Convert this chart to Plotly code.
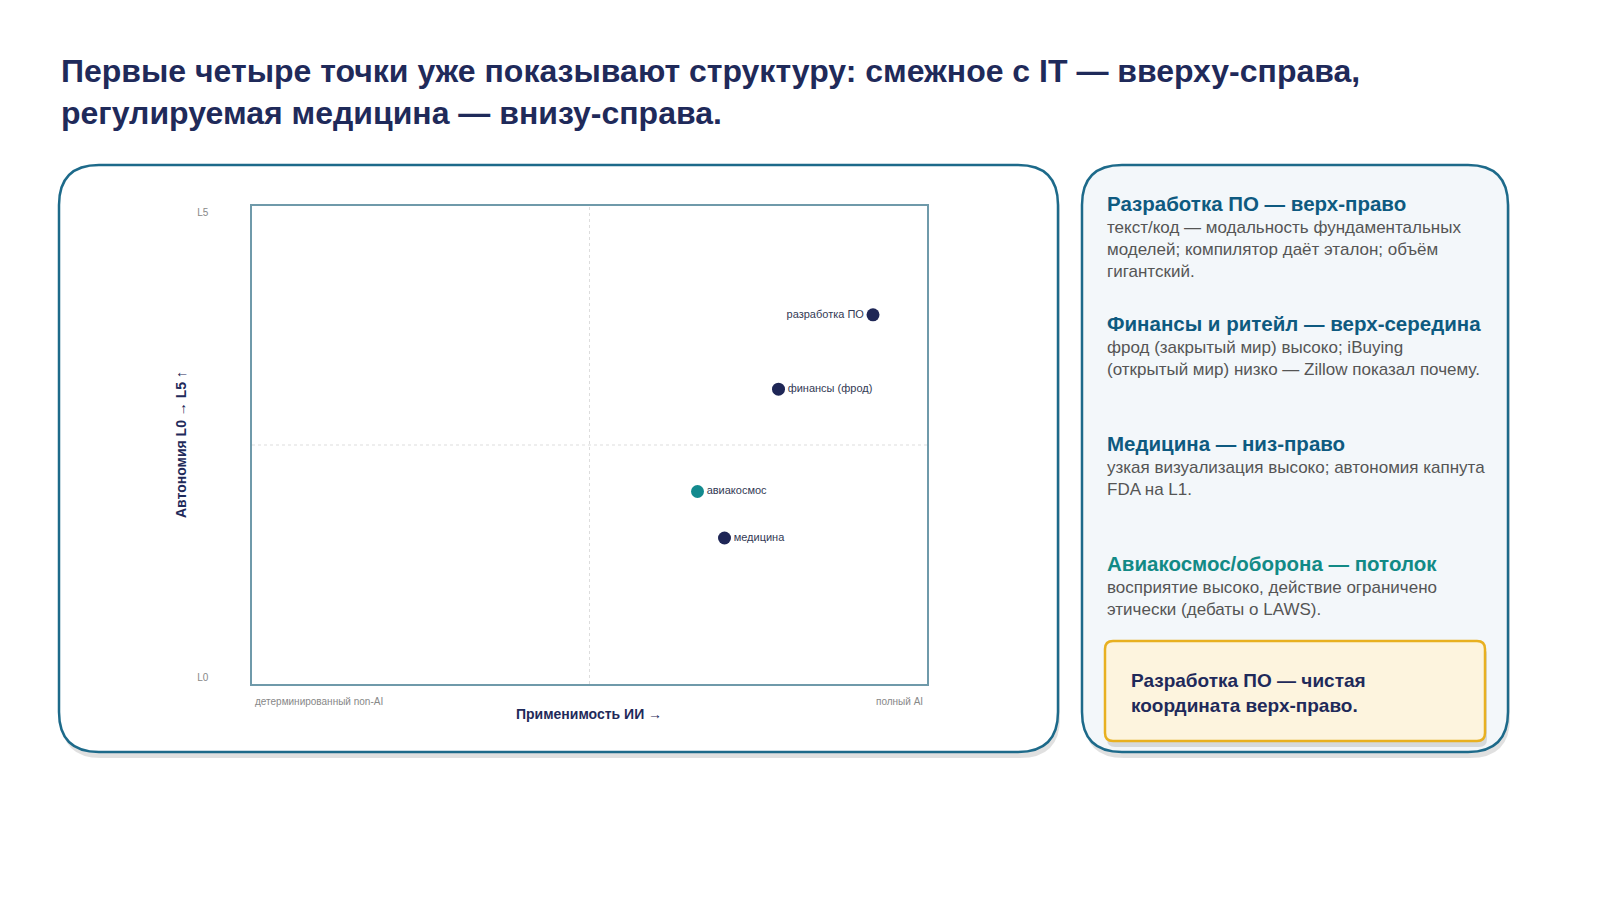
import plotly.graph_objects as go

W, H = 1584, 884

names = ["разработка ПО", "финансы (фрод)", "авиакосмос", "медицина"]
ai_fit = [0.92, 0.78, 0.66, 0.70]
autonomy = [3.9, 3.1, 2.0, 1.5]
colors = ["#1e2656", "#1e2656", "#138a8e", "#1e2656"]
label_pos = ["middle left", "middle right", "middle right", "middle right"]
y_ticks = [0, 5]
y_ticklabels = ["L0", "L5"]

notes = [
    ("Разработка ПО — верх-право",
     "текст/код — модальность фундаментальных<br>моделей; компилятор даёт эталон; объём<br>гигантский.", "#0e5a80", 203),
    ("Финансы и ритейл — верх-середина",
     "фрод (закрытый мир) высоко; iBuying<br>(открытый мир) низко — Zillow показал почему.", "#0e5a80", 323),
    ("Медицина — низ-право",
     "узкая визуализация высоко; автономия капнута<br>FDA на L1.", "#0e5a80", 443),
    ("Авиакосмос/оборона — потолок",
     "восприятие высоко, действие ограничено<br>этически (дебаты о LAWS).", "#128a86", 563),
]


def px(x):
    return (x - 8) / W


def py(y):
    return 1 - (y - 8) / H


def rrect(x0, y0, x1, y1, r):
    # rounded rectangle in page pixel coords -> paper path
    X = lambda v: f"{px(v):.5f}"
    Y = lambda v: f"{py(v):.5f}"
    return (f"M {X(x0+r)},{Y(y0)} L {X(x1-r)},{Y(y0)} Q {X(x1)},{Y(y0)} {X(x1)},{Y(y0+r)} "
            f"L {X(x1)},{Y(y1-r)} Q {X(x1)},{Y(y1)} {X(x1-r)},{Y(y1)} "
            f"L {X(x0+r)},{Y(y1)} Q {X(x0)},{Y(y1)} {X(x0)},{Y(y1-r)} "
            f"L {X(x0)},{Y(y0+r)} Q {X(x0)},{Y(y0)} {X(x0+r)},{Y(y0)} Z")


fig = go.Figure()
fig.add_trace(go.Scatter(
    x=ai_fit, y=autonomy, mode="markers+text", text=names,
    textposition=label_pos, textfont=dict(size=11, color="#333a55"),
    marker=dict(size=13, color=colors), hoverinfo="text", showlegend=False))

shapes = []
for (x0, y0, x1, y1, r, fill, line, lw) in [
    (59, 165, 1058, 752, 40, "white", "#1d6a8a", 2.5),
    (1082, 165, 1508, 752, 40, "#f3f7fa", "#1d6a8a", 2.5),
    (1105, 641, 1485, 741, 8, "#fdf4de", "#e8b020", 2.5),
]:
    shapes.append(dict(type="path", xref="paper", yref="paper", layer="below",
                       path=rrect(x0 + 2, y0 + 6, x1 + 2, y1 + 6, r),
                       fillcolor="rgba(0,0,0,0.12)", line=dict(width=0)))
    shapes.append(dict(type="path", xref="paper", yref="paper", layer="below",
                       path=rrect(x0, y0, x1, y1, r), fillcolor=fill,
                       line=dict(color=line, width=lw)))
# quadrant dividers
shapes.append(dict(type="line", xref="x", yref="paper", x0=0.5, x1=0.5, y0=py(684), y1=py(206),
                   line=dict(color="#dddddd", width=1, dash="dot")))
shapes.append(dict(type="line", xref="paper", yref="y", x0=px(252), x1=px(927), y0=2.5, y1=2.5,
                   line=dict(color="#dddddd", width=1, dash="dot")))

ann = [
    dict(x=px(59), y=py(92), xref="paper", yref="paper", xanchor="left", yanchor="middle",
         align="left", showarrow=False,
         text="<b>Первые четыре точки уже показывают структуру: смежное с IT — вверху-справа,<br>регулируемая медицина — внизу-справа.</b>",
         font=dict(size=32, color="#1f2a5a")),
    dict(x=px(253), y=py(701), xref="paper", yref="paper", xanchor="left", yanchor="middle",
         showarrow=False, text="детерминированный non-AI", font=dict(size=10, color="#888")),
    dict(x=px(925), y=py(701), xref="paper", yref="paper", xanchor="right", yanchor="middle",
         showarrow=False, text="полный AI", font=dict(size=10, color="#888")),
    dict(x=px(589), y=py(714), xref="paper", yref="paper", yanchor="middle", showarrow=False,
         text="<b>Применимость ИИ →</b>", font=dict(size=14, color="#1f2a5a")),
    dict(x=px(171), y=py(445), xref="paper", yref="paper", showarrow=False, textangle=-90,
         text="<b>Автономия L0 → L5 ↑</b>", font=dict(size=14, color="#1f2a5a")),
    dict(x=px(1129), y=py(693), xref="paper", yref="paper", xanchor="left", yanchor="middle",
         align="left", showarrow=False, text="<b>Разработка ПО — чистая<br>координата верх-право.</b>",
         font=dict(size=19, color="#1f2a5a")),
]
for head, body, col, ytop in notes:
    ann.append(dict(x=px(1105), y=py(ytop), xref="paper", yref="paper", xanchor="left",
                    yanchor="middle", showarrow=False, text=f"<b>{head}</b>",
                    font=dict(size=20.5, color=col)))
    ann.append(dict(x=px(1105), y=py(ytop + 13), xref="paper", yref="paper", xanchor="left",
                    yanchor="top", align="left", showarrow=False, text=body,
                    font=dict(size=17, color="#555")))

fig.update_layout(
    width=W, height=H, margin=dict(l=0, r=0, t=0, b=0),
    paper_bgcolor="white", plot_bgcolor="rgba(0,0,0,0)",
    font=dict(family="Liberation Sans, Arial, sans-serif"),
    shapes=shapes, annotations=ann,
    xaxis=dict(domain=[px(252), px(927)], range=[0, 1], showgrid=False, zeroline=False,
               showticklabels=False, showline=True, mirror=True, linecolor="#6f9aaa", linewidth=1.5),
    yaxis=dict(domain=[py(684), py(206)], range=[-0.07, 5.07], showgrid=False, zeroline=False,
               tickvals=y_ticks, ticktext=y_ticklabels, ticks="", ticklabelstandoff=40,
               tickfont=dict(size=10, color="#888"),
               showline=True, mirror=True, linecolor="#6f9aaa", linewidth=1.5),
)

fig.write_html("out.html")
